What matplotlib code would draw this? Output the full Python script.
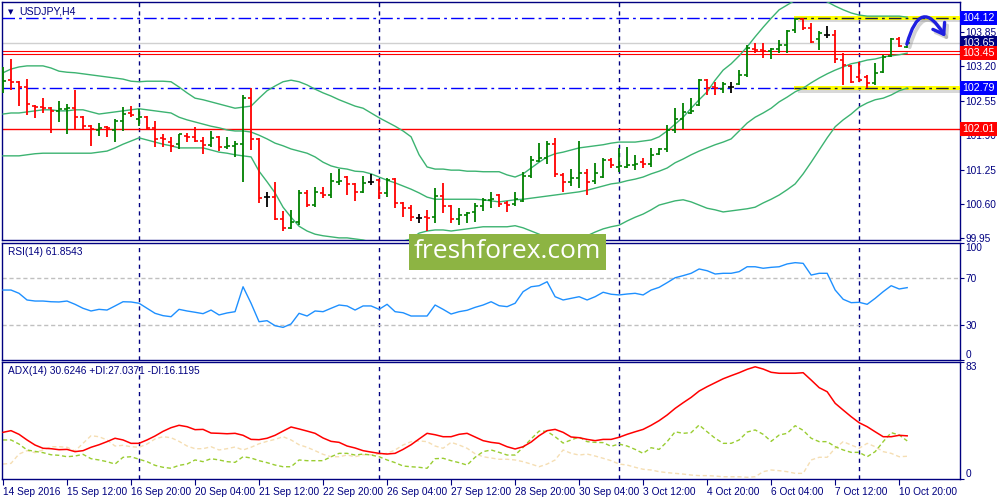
import numpy as np
import matplotlib
matplotlib.use("Agg")
import matplotlib.pyplot as plt
from matplotlib.patches import Rectangle, FancyArrowPatch
from matplotlib.path import Path

plt.rcParams['font.family'] = ['Liberation Sans', 'DejaVu Sans']

# ---- USDJPY H4 bars (bar index 0 = 14 Sep 2016 04:00) ----
opens = [102.79, 102.94, 102.90, 102.81, 102.45, 102.43, 102.42, 102.36, 102.39, 102.41,
         102.24, 102.07, 102.00, 102.06, 102.00, 102.17, 102.32, 102.21, 102.24, 102.04,
         101.85, 101.77, 101.73, 101.89, 101.87, 101.79, 101.72, 101.87, 101.68, 101.70,
         101.73, 102.60, 101.83, 100.73, 100.73, 100.32, 100.15, 100.26, 100.81, 100.58,
         100.81, 100.77, 101.02, 101.11, 100.98, 100.83, 101.02, 101.05, 100.81, 101.07,
         100.62, 100.52, 100.34, 100.36, 100.35, 100.75, 100.56, 100.32, 100.39, 100.45,
         100.56, 100.68, 100.77, 100.62, 100.60, 100.66, 101.13, 101.41, 101.47, 101.73,
         101.15, 101.02, 101.09, 101.19, 101.04, 101.11, 101.43, 101.30, 101.30, 101.34,
         101.39, 101.36, 101.55, 101.64, 102.00, 102.21, 102.32, 102.47, 102.94, 102.81,
         102.77, 102.81, 102.87, 103.04, 103.53, 103.51, 103.49, 103.53, 103.60, 103.89,
         104.10, 103.93, 103.72, 103.79, 103.79, 103.32, 103.21, 103.00, 103.00, 102.89,
         103.09, 103.40, 103.72, 103.57]
highs = [103.19, 103.34, 102.92, 102.96, 102.47, 102.60, 102.44, 102.55, 102.49, 102.75,
         102.26, 102.09, 102.13, 102.08, 102.21, 102.43, 102.45, 102.40, 102.26, 102.17,
         101.92, 101.87, 101.92, 101.94, 102.06, 101.87, 101.98, 101.89, 101.87, 101.79,
         102.66, 102.79, 101.85, 100.83, 101.02, 100.47, 100.49, 100.87, 100.87, 100.92,
         100.92, 101.19, 101.26, 101.13, 100.99, 101.13, 101.17, 101.07, 101.09, 101.09,
         100.64, 100.58, 100.41, 100.49, 100.90, 101.00, 100.58, 100.52, 100.45, 100.62,
         100.71, 100.83, 100.79, 100.66, 100.83, 101.20, 101.51, 101.75, 101.79, 101.85,
         101.19, 101.26, 101.79, 101.26, 101.38, 101.47, 101.47, 101.66, 101.68, 101.53,
         101.47, 101.66, 101.66, 102.09, 102.41, 102.51, 102.60, 102.96, 102.96, 102.91,
         102.91, 102.91, 103.13, 103.60, 103.64, 103.64, 103.55, 103.70, 103.89, 104.12,
         104.12, 104.02, 103.87, 103.96, 103.89, 103.45, 103.23, 103.28, 103.04, 103.26,
         103.42, 103.74, 103.76, 103.66]
lows = [102.70, 102.75, 102.45, 102.28, 102.23, 102.32, 101.94, 102.15, 101.92, 102.00,
        102.00, 101.70, 101.89, 101.87, 101.77, 101.98, 102.24, 102.07, 102.00, 101.68,
        101.68, 101.58, 101.64, 101.77, 101.77, 101.55, 101.68, 101.60, 101.64, 101.49,
        101.02, 101.62, 100.62, 100.54, 100.30, 100.09, 100.13, 100.20, 100.54, 100.54,
        100.71, 100.71, 100.96, 100.77, 100.66, 100.81, 100.96, 100.70, 100.73, 100.52,
        100.35, 100.28, 100.24, 100.09, 100.24, 100.43, 100.24, 100.20, 100.24, 100.26,
        100.47, 100.52, 100.54, 100.45, 100.56, 100.64, 101.09, 101.39, 101.36, 101.11,
        100.83, 100.94, 100.90, 100.77, 100.98, 101.10, 101.28, 101.21, 101.28, 101.24,
        101.28, 101.30, 101.53, 101.58, 101.94, 102.02, 102.30, 102.45, 102.66, 102.66,
        102.70, 102.70, 102.85, 103.00, 103.45, 103.36, 103.34, 103.45, 103.45, 103.83,
        103.89, 103.64, 103.51, 103.74, 103.26, 102.85, 102.89, 102.91, 102.79, 102.85,
        103.08, 103.38, 103.57, 103.55]
closes = [102.92, 102.91, 102.81, 102.49, 102.43, 102.42, 102.36, 102.39, 102.41, 102.24,
          102.07, 102.02, 102.04, 102.03, 102.17, 102.30, 102.28, 102.24, 102.04, 101.83,
          101.82, 101.70, 101.92, 101.87, 101.79, 101.72, 101.85, 101.68, 101.70, 101.73,
          102.60, 101.83, 100.71, 100.73, 100.32, 100.15, 100.26, 100.81, 100.58, 100.83,
          100.77, 101.04, 101.04, 100.98, 100.83, 101.00, 101.02, 100.81, 101.05, 100.62,
          100.52, 100.35, 100.34, 100.33, 100.75, 100.56, 100.32, 100.39, 100.43, 100.56,
          100.68, 100.70, 100.60, 100.59, 100.70, 101.13, 101.43, 101.47, 101.73, 101.17,
          101.02, 101.09, 101.19, 101.02, 101.19, 101.43, 101.34, 101.32, 101.34, 101.36,
          101.36, 101.53, 101.64, 102.00, 102.21, 102.34, 102.36, 102.94, 102.79, 102.79,
          102.87, 102.81, 103.04, 103.55, 103.51, 103.49, 103.53, 103.60, 103.87, 104.10,
          103.93, 103.66, 103.83, 103.79, 103.34, 103.23, 102.91, 102.94, 102.89, 103.08,
          103.38, 103.72, 103.59, 103.65]

# ---- Bollinger bands (20) ----
bb_upper = [103.08, 103.15, 103.19, 103.21, 103.21, 103.21, 103.17, 103.11, 103.09, 103.08,
            103.06, 103.04, 103.02, 103.00, 102.98, 102.96, 102.92, 102.91, 102.92, 102.92,
            102.92, 102.91, 102.81, 102.70, 102.60, 102.57, 102.53, 102.49, 102.45, 102.41,
            102.43, 102.45, 102.60, 102.74, 102.83, 102.91, 102.94, 102.91, 102.85, 102.77,
            102.70, 102.64, 102.57, 102.51, 102.45, 102.41, 102.32, 102.23, 102.15, 102.07,
            101.98, 101.87, 101.53, 101.30, 101.26, 101.26, 101.24, 101.24, 101.22, 101.22,
            101.21, 101.21, 101.21, 101.15, 101.11, 101.17, 101.28, 101.39, 101.49, 101.55,
            101.58, 101.62, 101.66, 101.68, 101.70, 101.72, 101.75, 101.77, 101.77, 101.77,
            101.79, 101.81, 101.87, 101.98, 102.11, 102.24, 102.41, 102.57, 102.72, 102.94,
            103.13, 103.25, 103.40, 103.57, 103.76, 103.94, 104.11, 104.27, 104.36, 104.45,
            104.51, 104.53, 104.49, 104.42, 104.34, 104.27, 104.21, 104.17, 104.15, 104.15,
            104.15, 104.15, 104.15, 104.13]
bb_middle = [102.30, 102.32, 102.32, 102.34, 102.36, 102.38, 102.38, 102.36, 102.36, 102.38,
             102.38, 102.34, 102.30, 102.32, 102.34, 102.36, 102.38, 102.40, 102.38, 102.36,
             102.34, 102.32, 102.24, 102.19, 102.15, 102.11, 102.07, 102.04, 102.00, 101.98,
             101.98, 101.96, 101.90, 101.83, 101.75, 101.70, 101.64, 101.60, 101.56, 101.49,
             101.39, 101.32, 101.28, 101.26, 101.22, 101.21, 101.17, 101.11, 101.05, 101.00,
             100.94, 100.88, 100.81, 100.73, 100.69, 100.69, 100.69, 100.69, 100.69, 100.69,
             100.68, 100.66, 100.64, 100.66, 100.68, 100.69, 100.71, 100.73, 100.75, 100.77,
             100.79, 100.81, 100.83, 100.86, 100.90, 100.94, 100.98, 101.00, 101.04, 101.07,
             101.11, 101.17, 101.22, 101.28, 101.38, 101.45, 101.53, 101.60, 101.66, 101.72,
             101.77, 101.83, 101.98, 102.13, 102.24, 102.32, 102.41, 102.53, 102.62, 102.72,
             102.79, 102.89, 102.98, 103.06, 103.13, 103.19, 103.25, 103.28, 103.32, 103.34,
             103.38, 103.40, 103.42, 103.45]
bb_lower = [101.51, 101.51, 101.51, 101.53, 101.55, 101.56, 101.56, 101.56, 101.56, 101.56,
            101.56, 101.56, 101.58, 101.60, 101.66, 101.73, 101.79, 101.85, 101.81, 101.77,
            101.73, 101.70, 101.66, 101.66, 101.66, 101.66, 101.62, 101.58, 101.56, 101.53,
            101.51, 101.49, 101.22, 101.02, 100.81, 100.54, 100.35, 100.18, 100.09, 100.03,
            100.00, 99.98, 99.96, 99.96, 99.94, 99.92, 99.88, 99.86, 99.86, 99.88,
            99.90, 99.94, 100.05, 100.09, 100.11, 100.11, 100.09, 100.11, 100.13, 100.15,
            100.17, 100.17, 100.17, 100.17, 100.19, 100.15, 100.09, 100.03, 99.96, 99.90,
            99.86, 99.88, 99.92, 100.00, 100.07, 100.13, 100.17, 100.20, 100.28, 100.35,
            100.41, 100.49, 100.58, 100.62, 100.66, 100.68, 100.64, 100.58, 100.52, 100.49,
            100.45, 100.47, 100.49, 100.51, 100.54, 100.62, 100.69, 100.77, 100.87, 100.98,
            101.17, 101.39, 101.62, 101.85, 102.06, 102.19, 102.30, 102.43, 102.51, 102.57,
            102.60, 102.66, 102.74, 102.79]

# ---- RSI(14) ----
rsi = [59.8, 59.8, 57.0, 51.3, 50.4, 50.4, 49.8, 49.6, 50.4, 47.6,
       44.2, 41.9, 43.3, 42.7, 46.2, 49.8, 49.6, 48.5, 44.2, 39.9,
       37.9, 37.0, 43.3, 41.9, 40.8, 39.6, 42.7, 38.5, 40.2, 41.3,
       62.6, 48.5, 32.7, 33.6, 29.3, 27.9, 30.8, 39.9, 37.6, 41.9,
       41.3, 44.2, 47.0, 46.2, 42.7, 46.2, 46.2, 43.3, 47.6, 41.3,
       40.4, 37.6, 37.6, 37.6, 47.0, 43.3, 39.3, 41.3, 42.5, 45.0,
       47.0, 49.8, 46.4, 45.6, 48.5, 58.4, 62.6, 63.5, 66.9, 54.1,
       51.3, 52.7, 54.1, 51.3, 54.1, 57.9, 56.2, 55.6, 56.4, 57.0,
       55.6, 59.8, 62.1, 66.1, 70.3, 72.1, 74.1, 77.8, 76.3, 73.5,
       74.1, 74.1, 75.5, 79.7, 79.7, 78.4, 79.2, 79.7, 82.1, 83.2,
       82.6, 72.6, 74.1, 74.1, 59.8, 51.9, 49.0, 49.3, 47.6, 52.7,
       58.4, 63.5, 60.7, 61.85]

# ---- ADX(14), +DI, -DI ----
adx = [33.1, 34.3, 31.7, 27.7, 24.1, 21.8, 21.5, 20.8, 21.0, 19.4,
       20.1, 22.5, 24.3, 26.5, 28.9, 27.7, 25.3, 25.3, 27.7, 30.5,
       33.8, 36.4, 38.1, 37.1, 35.0, 35.2, 32.6, 32.4, 32.1, 32.4,
       31.0, 28.1, 27.9, 28.9, 31.0, 34.0, 36.9, 35.5, 34.0, 32.4,
       29.1, 26.7, 26.0, 23.4, 22.0, 20.1, 19.1, 18.2, 17.7, 18.2,
       21.0, 24.3, 28.4, 32.4, 31.4, 30.0, 30.0, 31.7, 32.4, 29.8,
       27.2, 26.0, 25.3, 22.9, 21.3, 22.9, 26.2, 30.7, 34.3, 35.2,
       33.1, 29.8, 29.3, 28.1, 27.2, 28.1, 28.1, 29.6, 31.7, 33.5,
       35.2, 38.1, 41.4, 45.4, 50.1, 54.1, 57.9, 62.4, 65.5, 68.3,
       71.1, 73.3, 75.4, 77.8, 79.6, 78.0, 75.7, 75.0, 75.0, 75.0,
       75.4, 70.2, 64.8, 61.9, 53.7, 48.9, 44.2, 39.9, 37.1, 33.5,
       30.0, 30.0, 31.0, 30.62]
plus_di = [27.7, 27.7, 24.8, 20.6, 19.6, 18.7, 17.2, 16.8, 15.8, 16.3,
           17.5, 14.4, 13.5, 12.3, 10.6, 15.4, 15.8, 14.0, 12.3, 9.7,
           8.3, 7.6, 9.7, 10.6, 13.5, 12.3, 14.4, 13.5, 12.3, 11.8,
           15.8, 14.9, 13.0, 11.6, 9.9, 8.7, 8.7, 13.5, 13.0, 13.0,
           13.0, 15.8, 18.2, 18.2, 17.0, 17.7, 17.0, 15.8, 13.5, 11.6,
           9.2, 8.7, 8.3, 7.6, 14.4, 14.7, 13.0, 11.6, 9.9, 15.4,
           19.4, 20.6, 18.9, 17.0, 17.0, 22.5, 28.4, 34.0, 33.8, 30.0,
           25.5, 27.7, 29.8, 26.5, 26.0, 25.8, 23.2, 24.8, 23.4, 21.0,
           18.2, 22.2, 21.0, 26.5, 33.5, 32.4, 32.9, 38.3, 33.5, 28.9,
           25.3, 25.3, 27.7, 33.3, 34.8, 31.7, 26.7, 31.2, 32.4, 37.8,
           34.5, 28.9, 26.5, 26.5, 22.9, 20.6, 18.9, 18.9, 15.8, 19.4,
           26.5, 32.9, 31.2, 27.04]
minus_di = [10.6, 11.1, 17.7, 20.1, 18.7, 20.6, 22.9, 22.9, 22.5, 19.9,
            25.3, 30.7, 30.0, 27.7, 23.4, 23.9, 22.9, 22.5, 24.8, 28.4,
            30.0, 29.3, 26.7, 23.4, 21.5, 21.5, 22.9, 20.6, 21.5, 22.7,
            20.6, 22.5, 25.0, 26.7, 28.1, 30.0, 27.7, 24.3, 22.5, 20.1,
            17.5, 15.8, 15.8, 17.0, 15.8, 17.2, 17.2, 17.5, 18.2, 20.6,
            24.1, 26.5, 27.0, 26.5, 23.4, 21.8, 26.0, 24.1, 21.8, 17.9,
            15.8, 14.9, 14.0, 14.0, 13.5, 12.3, 10.6, 8.7, 10.6, 13.5,
            20.6, 18.2, 17.0, 17.7, 16.3, 14.7, 13.0, 10.6, 9.9, 8.3,
            6.9, 6.4, 5.2, 4.5, 4.0, 3.5, 2.8, 2.4, 2.4, 2.1,
            1.6, 1.6, 1.6, 1.2, 1.6, 5.2, 6.4, 5.9, 5.2, 4.0,
            4.0, 13.5, 15.4, 15.4, 21.8, 26.5, 24.1, 21.8, 25.3, 22.9,
            19.4, 18.2, 15.8, 16.12]

# ---- axis text ----
time_labels = ["14 Sep 2016", "15 Sep 12:00", "16 Sep 20:00", "20 Sep 04:00", "21 Sep 12:00",
               "22 Sep 20:00", "26 Sep 04:00", "27 Sep 12:00", "28 Sep 20:00", "30 Sep 04:00",
               "3 Oct 12:00", "4 Oct 20:00", "6 Oct 04:00", "7 Oct 12:00", "10 Oct 20:00"]
week_starts = [17, 47, 77, 107]
price_ticks = [99.95, 100.60, 101.25, 101.90, 102.55, 103.20, 103.85]

# levels drawn on the chart
resist_level = 104.12
support_level = 102.79
bid_level = 103.65
pivot_pair = (103.482, 103.440)
pivot_label = 103.45
low_level = 102.01

NAVY = '#000080'
FS = 7.3

x = np.arange(len(closes))
xmax = 119.6

fig = plt.figure(figsize=(10, 5), dpi=100)
ax = fig.add_axes([0.002, 0.52, 0.958, 0.476])
ax_rsi = fig.add_axes([0.002, 0.28, 0.958, 0.234])
ax_adx = fig.add_axes([0.002, 0.042, 0.958, 0.234])

for a in (ax, ax_rsi, ax_adx):
    a.set_xlim(-0.125, xmax)
    for s in a.spines.values():
        s.set_color(NAVY)
        s.set_linewidth(1)
    a.yaxis.tick_right()
    a.tick_params(axis='y', colors=NAVY, labelsize=FS, length=3, width=0.8, pad=1)
    a.tick_params(axis='x', bottom=False, labelbottom=False)
    for w in week_starts:
        a.axvline(w, color=NAVY, lw=1, ls=(0, (3, 3)), zorder=1)

# ---- main price panel ----
ax.set_ylim(99.92, 104.417)
ax.set_yticks(price_ticks)
ax.set_yticklabels([f"{p:.2f}" for p in price_ticks])

dashdot = (0, (9, 3, 2, 3))
ax.axhline(resist_level, color='#0000ff', lw=1, ls=dashdot, zorder=2)
ax.axhline(support_level, color='#0000ff', lw=1, ls=dashdot, zorder=2)
ax.axhline(bid_level, color='#d0d0d0', lw=1, zorder=2)
for lv in pivot_pair:
    ax.axhline(lv, color='#ff0000', lw=0.8, zorder=2)
ax.axhline(low_level, color='#ff0000', lw=1, zorder=2)

# yellow zones with soft shadow
zone_x = [98.9, xmax]
for lv in (resist_level, support_level):
    ax.fill_between([98.9 + 0.4, xmax], lv - 0.085, lv - 0.025, color='#909090', alpha=0.35,
                    lw=0, zorder=2.5)
    ax.fill_between(zone_x, lv - 0.045, lv + 0.035, color='#ffff00', lw=0, zorder=2.6)
    ax.plot(zone_x, [lv, lv], color='#202040', lw=1, ls=dashdot, zorder=2.7)

# bollinger bands
for band in (bb_upper, bb_middle, bb_lower):
    ax.plot(x, band, color='#3cb371', lw=1, zorder=3)

# OHLC bars
colors = []
for o, c in zip(opens, closes):
    colors.append('#008000' if c > o else ('#ff0000' if c < o else '#000000'))
ax.vlines(x, lows, highs, colors=colors, lw=1.3, zorder=4)
ax.hlines(opens, x - 0.4, x, colors=colors, lw=1.2, zorder=4)
ax.hlines(closes, x, x + 0.4, colors=colors, lw=1.2, zorder=4)

# forecast arrow
arrow_pts = [(112.96, 103.62), (114.65, 104.55), (117.75, 103.76)]
shadow = FancyArrowPatch(path=Path([(p[0] + 0.35, p[1] - 0.06) for p in arrow_pts],
                                   [Path.MOVETO, Path.CURVE3, Path.CURVE3]),
                         arrowstyle='->,head_length=0.5,head_width=0.35', mutation_scale=14,
                         lw=2.6, color='#808080', alpha=0.35, zorder=5)
ax.add_patch(shadow)
arrow = FancyArrowPatch(path=Path(arrow_pts, [Path.MOVETO, Path.CURVE3, Path.CURVE3]),
                        arrowstyle='->,head_length=0.5,head_width=0.35', mutation_scale=14,
                        lw=2.4, color='#1f1fe0', zorder=6)
ax.add_patch(arrow)

# price boxes on the right scale
ytr = ax.get_yaxis_transform()
boxes = [(bid_level, '#000080'), (pivot_label, '#ff0000'), (resist_level, '#0000ff'),
         (support_level, '#0000ff'), (low_level, '#ff0000')]
for lv, col in boxes:
    ax.text(1.0025, lv, f"{lv:.2f}", transform=ytr, ha='left', va='center', color='white',
            fontsize=FS + 0.4, zorder=10,
            bbox=dict(boxstyle='square,pad=0.18', fc=col, ec='none'))

ax.text(0.006, 0.958, '\u25bc', transform=ax.transAxes, fontsize=5, color=NAVY,
        family='DejaVu Sans', va='center')
ax.text(0.018, 0.958, 'USDJPY,H4', transform=ax.transAxes, fontsize=FS + 0.3, color=NAVY,
        va='center')

# ---- RSI panel ----
ax_rsi.set_ylim(0, 100)
ax_rsi.axhline(70, color='#c0c0c0', lw=1, ls=(0, (3, 2)), zorder=1)
ax_rsi.axhline(30, color='#c0c0c0', lw=1, ls=(0, (3, 2)), zorder=1)
ax_rsi.plot(x, rsi, color='#1e90ff', lw=1, zorder=3)
ax_rsi.set_yticks([0, 30, 70, 100])
ax_rsi.set_yticklabels(['0', '30', '70', '100'])
lbls = ax_rsi.get_yticklabels()
lbls[0].set_verticalalignment('bottom')
lbls[3].set_verticalalignment('top')
ax_rsi.text(0.006, 0.92, 'RSI(14) 61.8543', transform=ax_rsi.transAxes, fontsize=FS,
            color=NAVY, va='center')

# ---- ADX panel ----
ax_adx.set_ylim(0, 83)
ax_adx.plot(x, minus_di, color='#f5deb3', lw=1, ls=(0, (3, 2)), zorder=2)
ax_adx.plot(x, plus_di, color='#9acd32', lw=1, ls=(0, (3, 2)), zorder=2)
ax_adx.plot(x, adx, color='#ff0000', lw=1.1, zorder=3)
ax_adx.set_yticks([0, 83])
ax_adx.set_yticklabels(['0', '83'])
lbls = ax_adx.get_yticklabels()
lbls[0].set_verticalalignment('bottom')
lbls[1].set_verticalalignment('top')
ax_adx.text(0.006, 0.92, 'ADX(14) 30.6246 +DI:27.0371 -DI:16.1195', transform=ax_adx.transAxes,
            fontsize=FS, color=NAVY, va='center')

ax_adx.tick_params(axis='x', bottom=True, labelbottom=True, direction='out', length=4,
                   width=0.8, colors=NAVY, labelsize=FS, pad=2)
ax_adx.set_xticks(np.arange(0, len(time_labels) * 8, 8))
ax_adx.set_xticklabels(time_labels, ha='left')

# ---- watermark ----
fig.add_artist(Rectangle((0.409, 1 - 270 / 500), 0.197, 36 / 500, transform=fig.transFigure,
                         fc='#8db443', ec='none', zorder=20))
fig.text(0.5075, 1 - 252 / 500, 'freshforex.com', ha='center', va='center', color='white',
         fontsize=19, family='Open Sans', zorder=21)

fig.savefig('out.png', dpi=100, facecolor='white')
